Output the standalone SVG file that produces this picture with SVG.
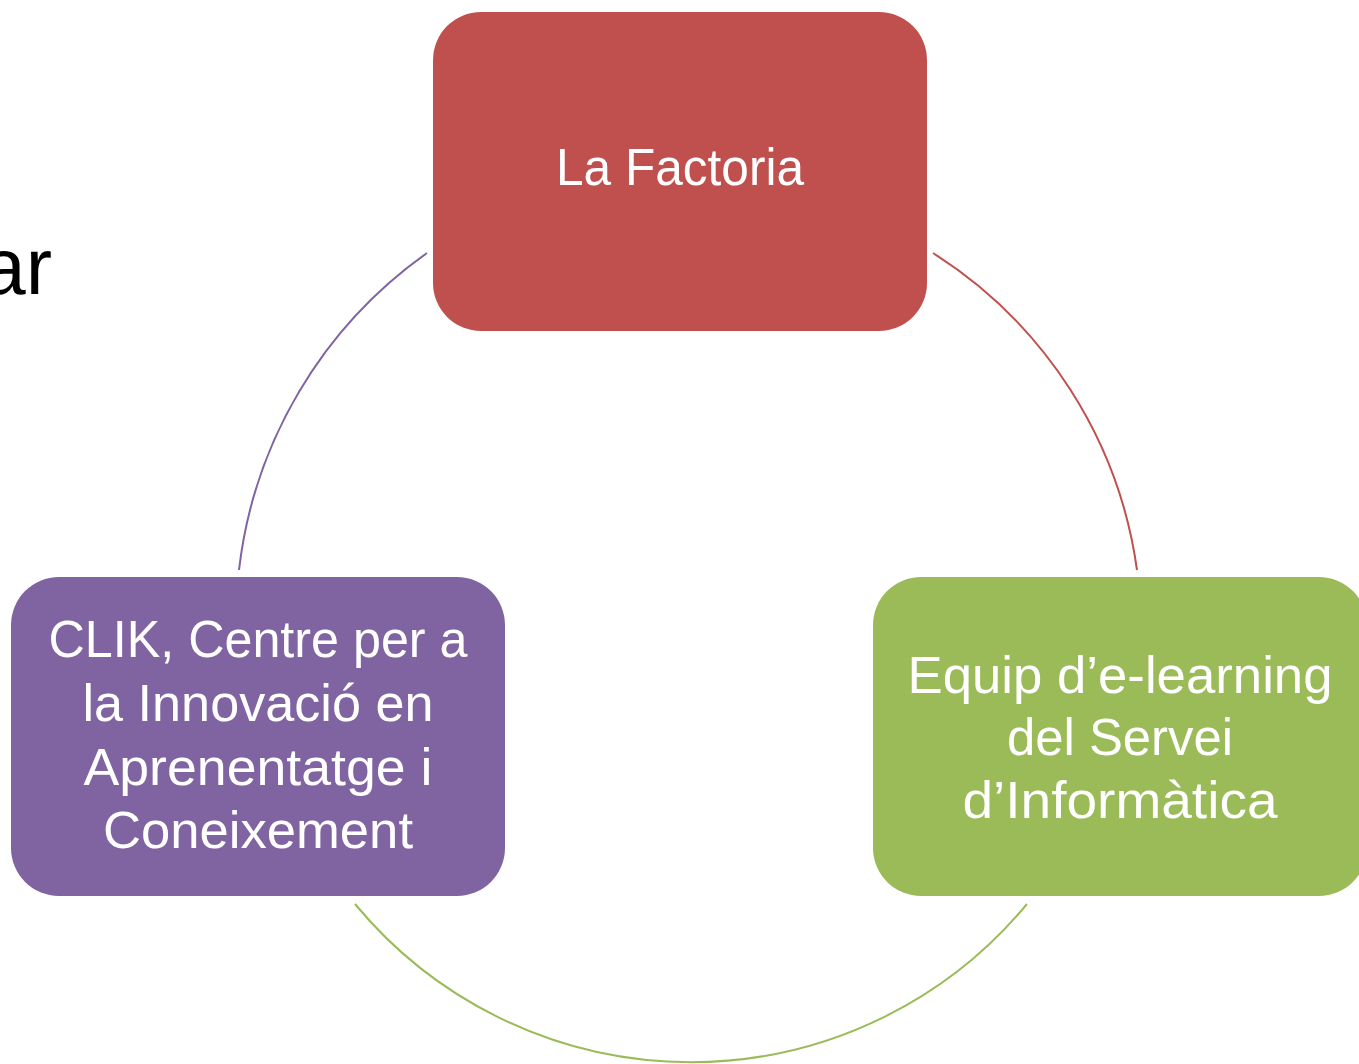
<svg xmlns="http://www.w3.org/2000/svg" width="1359" height="1064" viewBox="0 0 1359 1064">
<style>
.lbl{font-family:"Liberation Sans",Arial,sans-serif;font-size:52px;fill:#FFFFFF;text-anchor:middle}
.arc{fill:none;stroke-width:2}
</style>
<rect x="0" y="0" width="1359" height="1064" fill="#FFFFFF"/>
<text x="52" y="294" font-family="'Liberation Sans',Arial,sans-serif" font-size="79" fill="#000000" text-anchor="end">ar</text>
<g id="connectors">
<path class="arc" stroke="#C0504D" d="M933,253 A448,448 0 0 1 1137,570"/>
<path class="arc" stroke="#9BBB59" d="M1027,904 A436,436 0 0 1 355,904"/>
<path class="arc" stroke="#8064A2" d="M427,253 A452,452 0 0 0 239,570"/>
</g>
<g id="node-factoria">
<rect x="433" y="12" width="494" height="319" rx="48" ry="48" fill="#C0504D"/>
<text class="lbl" x="680" y="185" textLength="248" lengthAdjust="spacingAndGlyphs">La Factoria</text>
</g>
<g id="node-elearning">
<rect x="873" y="577" width="494" height="319" rx="48" ry="48" fill="#9BBB59"/>
<text class="lbl" x="1120" y="693" textLength="425" lengthAdjust="spacingAndGlyphs">Equip d’e-learning</text>
<text class="lbl" x="1120" y="755" textLength="226" lengthAdjust="spacingAndGlyphs">del Servei</text>
<text class="lbl" x="1120" y="818" textLength="315" lengthAdjust="spacingAndGlyphs">d’Informàtica</text>
</g>
<g id="node-clik">
<rect x="11" y="577" width="494" height="319" rx="48" ry="48" fill="#8064A2"/>
<text class="lbl" x="258" y="657" textLength="419" lengthAdjust="spacingAndGlyphs">CLIK, Centre per a</text>
<text class="lbl" x="258" y="721" textLength="351" lengthAdjust="spacingAndGlyphs">la Innovació en</text>
<text class="lbl" x="258" y="785" textLength="349" lengthAdjust="spacingAndGlyphs">Aprenentatge i</text>
<text class="lbl" x="258" y="848" textLength="310" lengthAdjust="spacingAndGlyphs">Coneixement</text>
</g>
</svg>
